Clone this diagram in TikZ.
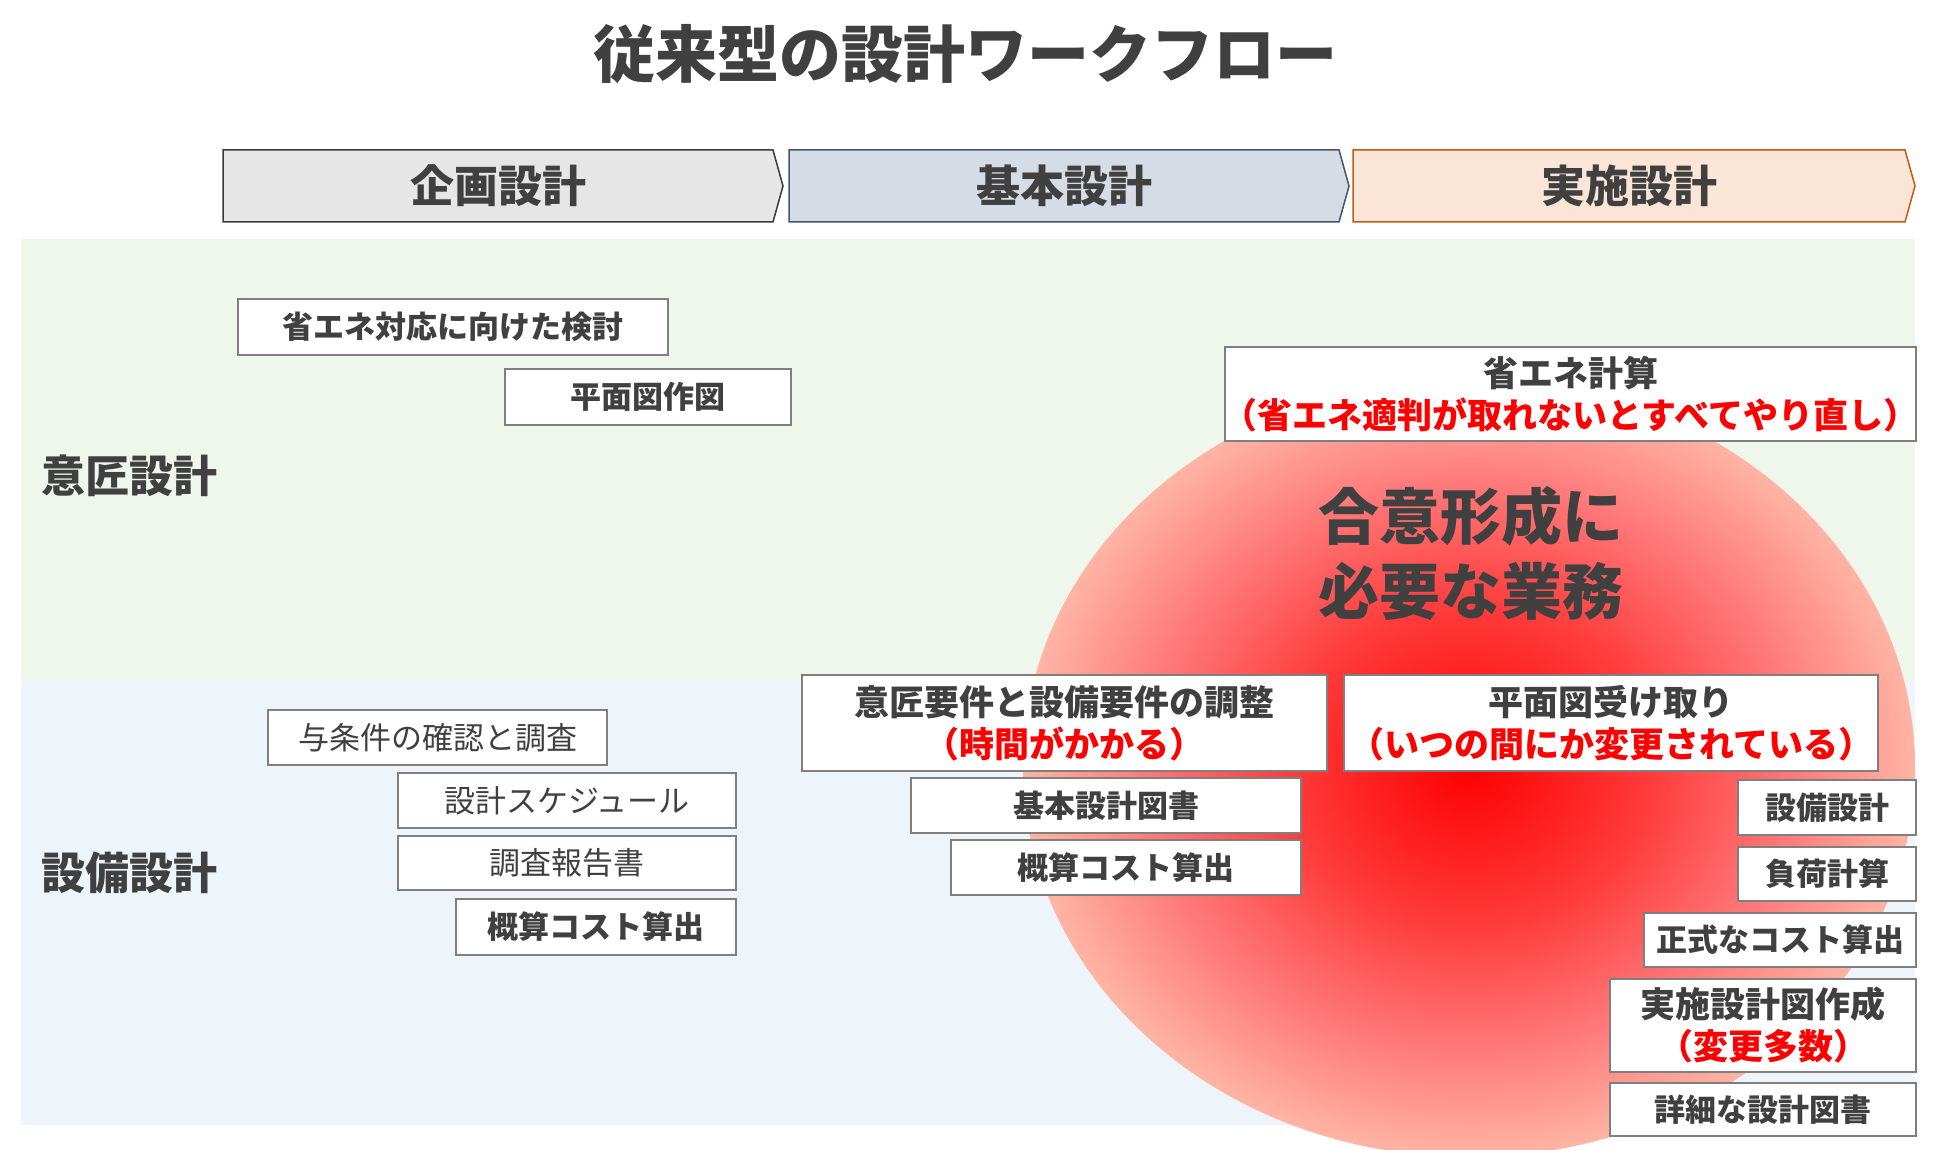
\documentclass[tikz,border=0pt]{standalone}
\usepackage{fontspec}
\setmainfont{Noto Sans CJK JP}
\usepackage{xcolor}
\usepackage{tikz}

\definecolor{ink}{HTML}{404040}
\definecolor{accent}{HTML}{FF0000}
\definecolor{boxline}{HTML}{7F7F7F}
\definecolor{bandA}{HTML}{EFF6EC}
\definecolor{bandB}{HTML}{EDF4FA}
\definecolor{phaseA}{HTML}{E7E6E6}
\definecolor{phaseAline}{HTML}{3A3A3A}
\definecolor{phaseB}{HTML}{D6DCE5}
\definecolor{phaseBline}{HTML}{44546A}
\definecolor{phaseC}{HTML}{FBE5D6}
\definecolor{phaseCline}{HTML}{C55A11}
\definecolor{glowA}{HTML}{FF3A3A}
\definecolor{glowB}{HTML}{FF7878}
\definecolor{glowC}{HTML}{FFB4A4}

\pgfdeclareradialshading{glow}{\pgfpoint{0bp}{0bp}}{color(0bp)=(red); color(10bp)=(glowA); color(18bp)=(glowB); color(25bp)=(glowC); color(50bp)=(glowC)}

\newcommand{\jlp}{\makebox[0.5em][r]{（}}
\newcommand{\jrp}{\makebox[0.5em][l]{）}}

\begin{document}
\begin{tikzpicture}[x=1pt, y=-1pt,
    task/.style={draw=boxline, line width=2pt, fill=white, text=ink, inner sep=0pt,
        anchor=north west, align=center, font=\bfseries\fontsize{31}{37}\selectfont},
    thin task/.style={task, font=\mdseries\fontsize{31}{37}\selectfont},
    big task/.style={task, font=\bfseries\fontsize{35}{42}\selectfont},
    rowlabel/.style={anchor=west, inner sep=0pt, text=ink, font=\bfseries\fontsize{44}{50}\selectfont},
    phaselabel/.style={inner sep=0pt, text=ink, font=\bfseries\fontsize{44}{50}\selectfont}]

    \useasboundingbox (0,0) rectangle (1950,1150);
    \fill[white] (0,0) rectangle (1950,1150);

    % =================================================================
    % 1. タイトルと工程（企画・基本・実施）
    % =================================================================
    \node[text=ink, font=\bfseries\fontsize{62}{70}\selectfont] (title) at (965,54) {従来型の設計ワークフロー};

    \foreach \xl/\xr/\fc/\dc/\nd/\txt in {223/783/phaseA/phaseAline/plan/企画設計,
        789/1349/phaseB/phaseBline/basic/基本設計,
        1353/1915/phaseC/phaseCline/detail/実施設計} {
        \draw[fill=\fc, draw=\dc, line width=1.5pt] (\xl,150) -- (\xr-10,150) -- (\xr,186)
            -- (\xr-10,222) -- (\xl,222) -- cycle;
        \node[phaselabel] (\nd) at ({(\xl+\xr-10)/2},186) {\txt};
    }

    % =================================================================
    % 2. 意匠設計・設備設計の帯
    % =================================================================
    \fill[bandA] (21,239) rectangle (1915,682);
    \fill[bandB] (21,682) rectangle (1915,1125);
    \node[rowlabel] (ishou) at (41,476) {意匠設計};
    \node[rowlabel] (setsubi) at (41,873) {設備設計};

    % 合意形成の円
    \shade[shading=glow] (1469,767) ellipse [x radius=446pt, y radius=390pt];
    \node[text=ink, align=center, inner sep=0pt, font=\bfseries\fontsize{61}{75}\selectfont]
        (goui) at (1471,553) {合意形成に\\必要な業務};

    % =================================================================
    % 3. 業務の箱
    % =================================================================
    % 企画設計
    \node[task, minimum width=430pt, minimum height=56pt] (kentou) at (237,298) {省エネ対応に向けた検討};
    \node[task, minimum width=286pt, minimum height=56pt] (sakuzu) at (504,368) {平面図作図};
    \node[thin task, minimum width=339pt, minimum height=55pt] (jouken) at (267,709) {与条件の確認と調査};
    \node[thin task, minimum width=338pt, minimum height=55pt] (sched) at (397,772) {設計スケジュール};
    \node[thin task, minimum width=338pt, minimum height=54pt] (houkoku) at (397,835) {調査報告書};
    \node[task, minimum width=280pt, minimum height=56pt] (gaisanA) at (455,898) {概算コスト算出};

    % 基本設計
    \node[big task, minimum width=525pt, minimum height=96pt] (chousei) at (801,674)
        {意匠要件と設備要件の調整\\{\color{accent}\jlp 時間がかかる\jrp}};
    \node[task, minimum width=390pt, minimum height=55pt] (kihonzu) at (910,777) {基本設計図書};
    \node[task, minimum width=350pt, minimum height=55pt] (gaisanB) at (950,839) {概算コスト算出};

    % 実施設計
    \node[big task, minimum width=691pt, minimum height=94pt] (enecalc) at (1224,346)
        {省エネ計算\\{\color{accent}\jlp 省エネ適判が取れないとすべてやり直し\jrp}};
    \node[big task, minimum width=534pt, minimum height=96pt] (uketori) at (1343,674)
        {平面図受け取り\\{\color{accent}\jlp いつの間にか変更されている\jrp}};
    \node[task, minimum width=178pt, minimum height=55pt] (setsubiS) at (1737,779) {設備設計};
    \node[task, minimum width=178pt, minimum height=54pt] (fuka) at (1737,846) {負荷計算};
    \node[task, minimum width=272pt, minimum height=54pt] (seishiki) at (1643,912) {正式なコスト算出};
    \node[big task, minimum width=306pt, minimum height=93pt] (jisshizu) at (1609,978)
        {実施設計図作成\\{\color{accent}\jlp 変更多数\jrp}};
    \node[task, minimum width=306pt, minimum height=53pt] (shousai) at (1609,1082) {詳細な設計図書};

\end{tikzpicture}
\end{document}
